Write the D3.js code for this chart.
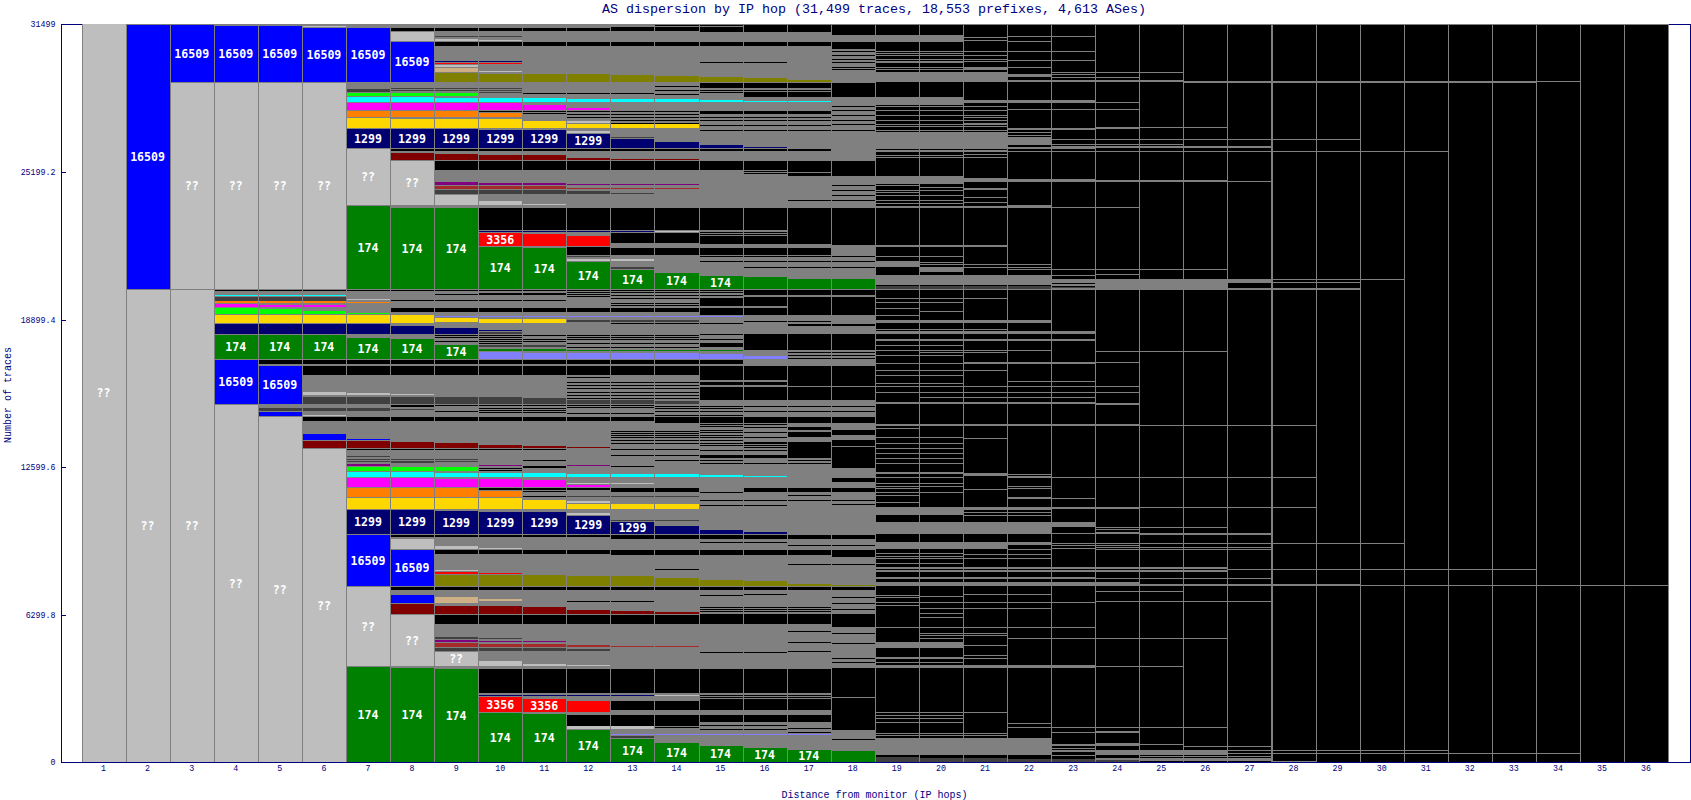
<!DOCTYPE html>
<html><head><meta charset="utf-8"><title>AS dispersion by IP hop</title>
<script src="https://cdn.jsdelivr.net/npm/d3@7"></script>
<style>html,body{margin:0;padding:0;background:#fff;overflow:hidden}svg{display:block}</style>
</head><body><svg id="c" width="1691" height="800"></svg>
<script>
const titleText = "AS dispersion by IP hop (31,499 traces, 18,553 prefixes, 4,613 ASes)";
const xTitle = "Distance from monitor (IP hops)";
const yTitle = "Number of traces";
const totalTraces = 31499;
const hops = d3.range(1, 37);
const yTickValues = [0, 6299.8, 12599.6, 18899.4, 25199.2, 31499];
// rows: [firstHop, lastHop, lowTrace, highTrace, label?]  or [firstHop,lastHop,trace] for a single hairline
const unknown = [[1,1,0,31499,"??"],[2,3,0,20159,"??"],[3,6,20188,28981,"??"],[4,4,0,15266,"??"],[5,5,0,14754,"??"],[6,6,0,13388,"??"],
 [7,7,23788,26177,"??"],[8,8,23788,25665,"??"],[9,9,23788,24215],[10,10,23788,23958],[11,11,23788,23830],
 [7,7,4112,7483,"??"],[8,8,4112,6288,"??"],[9,9,4112,4709,"??"],[10,10,4112,4325],[11,11,4112,4197],[12,12,4112,4170],
 [8,8,30787,31185],[9,9,30787,30873],[10,10,30787,30830],[9,9,29678,29763],[10,10,29464,29507],[6,6,31385,31424],[7,7,19733,19776],
 [6,6,15664,15806],[7,7,15678,15777],[8,8,15678,15720],[6,6,14782,14824],[8,8,9105,9532],[9,9,9105,9233],[10,10,9105,9148],[9,9,8166,8209],
 [12,12,27287,27373],[12,12,26860,26946],[12,13,21397,21483],[12,13,11880,11922],[12,12,11069,11154],[12,12,10557,10642],[12,13,1423,1551],
 [14,14,22635,22678],[14,14,2831,2874],[12,12,4112,4170]];
const as16509 = [[2,2,20188,31470,"16509"],[3,3,29023,31470,"16509"],[4,5,29023,31442,"16509"],[6,7,29023,31356,"16509"],[8,8,29023,30744,"16509"],
 [4,4,15294,17172,"16509"],[5,5,15294,16915,"16509"],[5,5,14782,14953],[6,6,13757,14013],[7,7,13757,13800],[7,7,7526,9703,"16509"],[8,8,7526,9063,"16509"],[8,8,6800,7142]];
const as1299 = [[7,9,26220,27031,"1299"],[10,11,26220,26988,"1299"],[12,12,26220,26818,"1299"],[13,13,26220,26604],[14,14,26220,26476],[15,15,26220,26348],[16,16,26220,26263],
 [7,8,9746,10770,"1299"],[9,9,9746,10727,"1299"],[10,11,9746,10685,"1299"],[12,12,9746,10514,"1299"],[13,13,9746,10258,"1299"],[14,14,9746,10087],[15,15,9746,9917],[16,16,9746,9831],
 [4,7,18267,18709],[8,8,18267,18623],[9,9,18267,18538],[10,10,18410,18452],[9,10,29892,29934],[10,13,22635,22678],[12,13,2831,2874],[10,11,2831,2874]];
const as174 = [[7,7,20188,23745,"174"],[8,9,20188,23660,"174"],[10,10,20188,21995,"174"],[11,11,20188,21952,"174"],[12,12,20188,21354,"174"],[13,13,20188,21013,"174"],[14,14,20188,20885,"174"],[15,15,20188,20757,"174"],[16,16,20188,20715],[17,18,20188,20629],
 [4,6,17215,18239,"174"],[7,7,17215,18111,"174"],[8,8,17215,18068,"174"],[9,9,17215,17812,"174"],[10,11,17560,17645],[12,15,17560,17603],
 [7,7,0,4069,"174"],[8,8,0,4026,"174"],[9,9,0,3984,"174"],[10,10,0,2106,"174"],[11,11,0,2063,"174"],[12,12,0,1380,"174"],[13,13,0,996,"174"],[14,14,0,825,"174"],[15,15,0,697,"174"],[16,16,0,612,"174"],[17,17,0,526,"174"],[18,18,0,484]];
const as3356 = [[10,10,22037,22592,"3356"],[11,11,22037,22550],[12,12,22037,22464],[10,10,2148,2788,"3356"],[11,11,2148,2703,"3356"],[12,12,2148,2617],
 [9,10,29806,29848],[9,9,8038,8123],[10,10,8038,8080]];
const maroonRows = [[8,8,25708,26007],[9,9,25708,25964],[10,11,25708,25921],[12,12,25708,25793],[13,14,25708,25750],
 [6,7,13416,13715],[8,8,13416,13672],[9,9,13416,13629],[10,10,13416,13544],[11,11,13416,13501],[12,12,13416,13458],
 [8,8,6331,6757],[9,10,6331,6672],[11,11,6331,6629],[12,12,6331,6501],[13,13,6331,6459],[14,14,6331,6416]];
const goldRows = [[7,7,27074,27501],[8,10,27074,27458],[11,11,27074,27373],[12,14,27074,27245],[4,8,18737,19093],[9,9,18780,18965],[10,11,18751,18922],
 [7,10,10813,11282],[11,11,10813,11197],[12,14,10813,11026]];
const orangeRows = [[7,9,27543,27799],[10,10,27543,27714],[4,6,19619,19691],[7,7,19619,19662],[7,9,11325,11709],[10,10,11325,11581]];
const magentaRows = [[7,10,27842,28141],[11,11,27842,28056],[12,12,27842,27927],[4,4,19420,19576],[5,5,19420,19533],[6,6,19449,19533],[7,8,11752,12136],[9,10,11752,12094],[11,11,11752,12051],[12,12,11752,11837]];
const cyanRows = [[7,8,28184,28397],[9,11,28184,28354],[12,14,28184,28311],[15,15,28184,28269],[16,17,28184,28226],[4,6,19904,19947],[7,8,12178,12392],[9,11,12178,12349],[12,14,12178,12306],[15,15,12178,12264],[16,16,12178,12221]];
const limeRows = [[7,9,28440,28568],[4,4,19136,19406],[5,5,19136,19334],[6,6,19136,19264],[7,7,19136,19193],[7,9,12434,12605]];
const oliveRows = [[9,9,29038,29407],[10,12,29038,29378],[13,13,29038,29336],[14,14,29038,29293],[15,15,29038,29250],[16,16,29038,29208],[17,17,29038,29122],
 [9,11,7526,7995],[12,13,7526,7953],[14,14,7526,7867],[15,15,7526,7782],[16,16,7526,7739],[17,17,7526,7611],[18,18,7526,7569]];
const tanRows = [[9,9,29464,29635],[9,9,6800,7056],[10,10,6885,6971]];
const purpleRows = [[9,9,24641,24769],[10,11,24641,24726],[12,14,24641,24684],[9,9,5136,5221],[10,11,5136,5179],[7,7,12647,12733],[10,10,12647,12690],[12,12,12647,12690]];
const brownRows = [[9,11,24470,24598],[12,14,24470,24513],[9,9,4922,5093],[10,11,4922,5051],[12,12,4922,5008],[13,14,4922,4965]];
const periwinkleRows = [[9,15,19008,19051],[10,10,17215,17517],[11,14,17215,17475],[15,15,17215,17432],[16,16,17215,17346],[13,17,1167,1209]];
const darkRows = [[4,6,19704,19875],[6,10,15294,15607],[11,11,15294,15550],[12,13,15294,15465],[14,14,15294,15422],[5,7,14995,15124],[8,8,15038,15095],
 [7,7,28611,28724],[8,9,28640,28696],[8,9,28781],[9,10,30986],[10,10,28767],[10,10,28681],[10,10,28596],
 [9,11,24256,24427],[12,12,24256,24385],[13,13,24256,24300],[9,11,4752,4880],[12,12,4752,4837],[9,9,5264,5349],[10,10,5264,5307],
 [13,13,1039,1124],[13,13,21056,21141],[13,13,26675],[13,14,10344],[12,14,11368],[7,7,13074],[7,9,12932],[7,9,12847],[8,8,12790,12847],
 [10,11,17713,17798],[10,10,18267,18366],[12,14,18780,18865],[12,12,21611],
 [19,19,0,228],[20,21,0,185],[22,23,0,142],[24,24,0,100],[19,22,20202,20331],[23,23,20240,20290]];
// black gaps inside the grey hatching of hops up to 18
const gapRows = [[8,12,31228,31342],[13,14,31228,31385],[15,15,31171,31385],[14,15,31424,31470],[16,17,31171,31470],[18,18,31043,31470],
 [9,17,30574,30744],[18,18,30446,30744],[18,18,30360],[18,18,30190],[18,18,30019],[18,18,29892],[18,18,29692],[18,18,29592],[15,16,29877],[15,17,28781,28981],[18,18,28397,28981],[11,13,28568],[14,14,28866],[14,15,28696],[14,14,28525],[15,15,28611],[16,17,28397,28611],[16,17,28696],
 [18,18,28013],[18,18,27842],[18,18,27629],[18,18,27415],[18,18,27245],[18,18,26988],
 [10,10,27757,27813],[11,11,27757,27785],[11,11,27657,27700],[12,14,27799],[12,14,27671],[12,14,27543],[13,14,27415],[13,14,27287],[13,14,27202],[15,17,27671,27799],[15,17,27543],[15,17,27415],[15,17,27202],[15,17,26988],
 [8,17,26092,26177],[9,15,25281,25665],[16,16,25281,25665],[16,16,25224],[16,16,25139],[17,17,25196,25665],[17,17,25025,25139],[18,18,25025,25665],[17,17,23999],[18,18,24641],[18,18,24427],[18,18,24214],[18,18,24001],
 [10,16,22720,23660],[17,17,22123,23660],[18,18,22080,23660],[15,16,22635],[15,16,22550],[13,13,22166,22578],[14,14,22166,22593],[15,16,22123,22464],[12,12,21653,21995],[13,17,21653,21952],[15,18,21611],[15,18,21397],[16,18,21155],
 [4,18,20116,20174],[9,9,20003],[10,11,19947,20017],[12,12,20088],[12,12,19988],[12,12,19889],[13,14,20088],[13,14,19960],[13,15,19818],[13,14,19619],[13,14,19519],[8,11,19754],[15,15,20060],[15,15,19947],[15,15,19476,19818],[16,16,19947,20159],[16,16,19476,19875],[17,18,19947,20159],[17,18,19093,19861],
 [8,14,19220,19391],[15,16,19093,19391],[16,17,18780,18850],[17,18,18620,18700],[13,15,18750],[9,10,18225],[9,10,18139],[9,11,17969],[10,11,18054],[10,10,17912],[11,11,18225],[12,14,18225],[12,14,18139],[12,14,18054],[12,14,17883],[12,14,17741],[15,15,18225,18268],[15,15,18054],[15,15,17741,17883],[16,18,17741,18268],[16,18,17600,17720],[17,18,17530],[17,18,17390],[17,18,17250],
 [5,15,17001,17172],[6,15,16531,16915],[15,18,16315,16915],[17,18,16070,16300],[15,16,16100,16250],[15,18,15465,16000],[12,12,16460],[12,14,16245],[12,14,16103],[12,14,15961],[12,14,15820],[12,14,15678],[12,14,15536],
 [8,8,15209],[8,8,15266],[9,9,15251],[9,9,15010],[10,11,15266],[10,11,15138],[10,11,15038],[10,11,14939],[12,13,15251],[12,13,15181],[12,13,14925],[14,15,15209],[14,15,15124],[14,15,15010],[14,15,14839],[14,15,14754],[16,18,15209],[16,18,15010],
 [6,13,14569,14739],[14,14,14498,14739],[15,18,14498,14739],[13,14,14142],[13,14,14056],[13,14,13971],[13,14,13886],[13,14,13757],[13,14,13629],[13,14,13373],[13,14,13117],
 [15,15,14440],[15,15,14355],[15,15,14184],[15,15,14099],[15,15,13971],[15,15,13886],[15,15,13757],[15,15,13629],[15,15,13544],[15,15,13331],[15,15,12975,13117],[15,15,12904],[15,15,12762],
 [16,16,14440],[16,16,14326],[16,16,14099],[16,16,13886],[16,16,13686],[16,16,13615],[16,16,13544],[16,16,13473],[16,16,13331],[16,16,12975,13117],[16,16,12762],
 [17,17,14184,14326],[17,17,13900,14113],[17,17,12975,13686],[17,17,12904],[17,17,12762],[18,18,13971,14184],[18,18,13487,13757],[18,18,12548,13458],
 [7,11,13331,13388],[10,10,12576],[10,10,12477],[11,11,12917],[11,11,12661],[11,11,12619],[13,13,12647],[14,14,12904],[10,10,11623,11709],[11,12,11623,11709],[11,11,11581],[11,11,11368],[13,14,11538,11709],[15,15,11538],[15,15,11197],[15,15,10983],[16,16,11538,11709],[16,16,11197],[16,16,10983],[17,17,11538,11695],[17,17,11410],[17,17,11197],[18,18,11979,12121],[18,18,11538,11709],[18,18,11197],[18,18,11040],
 [8,12,9618,9703],[13,18,9532,9703],[9,12,8892,9063],[13,17,8849,9063],[18,18,8750,9063],[15,16,9418],[17,18,9262],[18,18,8465],[17,18,8465],
 [8,18,7355,7483],[14,14,8266],[15,15,7142],[16,16,7170],[18,18,7071],[12,13,6900],[15,17,6629],[15,17,6544],[15,17,6459],[15,18,6331],[18,18,6786],[18,18,6544],
 [9,17,5904,6288],[18,18,5760,6288],[17,17,5606],[18,18,5520],[17,17,5150],[18,18,5080],[15,16,4695],[17,17,4752],[18,18,4439],[18,18,4296],
 [10,17,2959,3984],[18,18,2788,4026],[15,17,2874],[15,17,2788],[15,17,2703],[18,18,1664,2745],[13,14,2233,2617],[15,17,2233,2660],
 [12,13,1551,2017],[14,14,1551,2017],[14,14,1508],[15,16,1722,2017],[15,16,1594],[15,16,1423],[17,17,1722,2017],[17,17,1451],[17,17,1309],[18,18,1380,2017],[18,18,1010]];
// grey hairlines and bands on the black of the deep hops
const greyRows = [[19,36,31470,31499],[19,20,30744,31043],[21,21,30958],[21,21,30830],[22,22,30986],[22,22,30773],[23,23,30986],
 [19,21,30360],[22,23,30360],[19,20,30275],[19,21,30190],[19,20,30019],[21,21,30019],[19,21,29934],[19,20,29892],[19,21,29692],[19,20,29592],[21,21,29550,29650],[19,21,29038,29464],[22,22,29678],[22,22,29236,29378],[22,23,29038,29122],[22,22,29976],[23,23,29976],[23,23,29450],[23,23,29378],[23,23,29236],
 [19,20,28056,28397],[21,23,28127,28269],[19,21,28013],[19,21,27842],[22,23,27870],[19,21,27629],[19,21,27415],[19,21,27245],[19,21,27159],[19,21,26988],[21,21,27530],[21,21,27300],[22,23,27010,27088],[22,22,26903],[22,22,26790],
 [19,21,26177,26903],[22,22,26348,26689],[22,23,26177,26248],[23,23,26590],[23,23,26377],[23,23,26300],[19,21,26050,26135],[22,23,26078],[19,20,25907],[19,20,25822],[21,21,25950],[21,21,25822],
 [19,20,24684,25025],[21,21,24783,24954],[22,23,24783,24897],[19,19,24641],[19,20,24427],[19,19,24356],[19,20,24214],[19,20,24001],[19,20,23859],[20,20,24570],[21,21,24430,24499],[21,21,24115],[21,21,23930],[19,22,23660,23745],[22,22,23788],[23,23,23688],
 [18,21,21995,22080],[19,20,21625],[19,19,21155,21397],[20,20,21340],[20,20,21270],[20,20,20940,21155],[21,22,21268],[21,22,21155],[22,23,21042],[19,22,20373,20800],[23,23,20470,20615],[23,23,20800],[19,29,20174,20230],[23,23,20345,20430],
 [19,21,19800],[19,20,19660],[19,19,19400],[19,19,19090],[20,20,19260],[19,22,18737,18880],[19,21,18500],[22,22,18430],[19,23,18270,18400],[19,23,17970,18060],[19,20,17830],[19,22,17600],[20,21,17500],[19,20,17400],[21,24,17100],[19,23,17001,17060],[19,21,16740],[19,20,16530],[22,23,16280],[19,20,16180],[19,24,16000,16060],[19,24,15820],[20,23,15600],[19,23,15294,15380],
 [18,24,14355,14440],[19,19,14255],[19,20,13828,13900],[19,20,13615],[19,20,13402],[19,20,13188],[19,20,12975],[19,20,12790],[21,21,13828],[21,22,12300],[19,20,12406],[19,20,12335],[19,20,12164],[21,21,12221,12335],[22,22,12121,12221],[23,23,12164],[19,19,11908],[19,19,11794],[19,19,11695],[19,19,11552],[19,19,11410],[19,19,11126],[20,20,11908],[20,20,11794],[20,20,11552],[22,22,11809],[22,22,11723],[22,22,11339],[22,23,11268],[21,21,11650],
 [19,20,10557,10912],[21,22,10770,10912],[21,22,10700],[21,21,10557],[22,22,10557],[23,24,10798,10912],[17,22,9732,10272],[23,23,10030,10240],[23,24,9732,9802],[24,24,10030],[24,24,9960],[18,22,9418],[17,21,9105,9347],[22,22,9262,9376],[22,22,9105],[23,23,9347],[23,23,9262],[23,23,9148],
 [19,20,8920],[19,20,8806],[19,20,8707],[19,20,8493],[21,22,8900],[21,22,8700],[19,24,8266,8351],[19,24,8123,8209],[19,23,7810,7895],[19,24,7526,7682],
 [19,19,7142],[19,19,7071],[19,19,6857],[19,19,6715],[20,20,7100],[20,20,6857],[20,20,6573],[20,20,6360],[20,20,6218],[21,22,7200],[21,22,6857],[21,22,6573],[23,23,6857],[19,22,5719,5791],[23,23,5760],[22,24,5292],[20,21,5500],[20,21,5430],[20,20,5320],[21,21,4995],[19,20,4866,5150],[21,21,4580],[21,21,4440],[19,20,4510],[19,20,4440],[19,20,4300],[17,23,4040,4154],
 [19,21,2134],[19,20,2020],[19,20,1880],[19,20,1740],[22,22,1664],[22,24,1494],[23,24,1309],[19,21,1238],[19,21,1167],[19,22,811,1040],[23,23,683,790],[22,23,600],[19,22,313,811],[23,24,420,526],[23,23,300],
 [24,25,29450],[24,24,29236],[24,25,29038,29122],[26,33,29010,29066],[34,34,29066],[24,24,28169],[24,24,27870],[24,24,27050,27115],[25,26,27102],[24,29,26590],[24,25,26377],[24,27,26200,26300],[24,31,26078],[24,26,24783,24854],[27,27,24770,24830],[24,24,23688],[24,26,21042],[24,24,20790,20830],[27,27,20470,20615],[24,26,20260,20615],[28,30,20615],[28,29,20501],[24,26,17570],
 [24,24,15250,15330],[24,28,14383],[24,28,12164],[24,24,10800,10900],[25,28,10884],[24,25,10020,10060],[26,26,10030],[24,24,9770,9830],[25,27,9802],[25,27,9732],[24,30,9347],[24,27,9176],[24,24,9262],[24,27,9091],[24,26,8270,8351],[24,26,8130,8210],[27,33,8238],[24,27,7853],[24,24,7530,7710],[25,29,7530,7600],[30,36,7569],[24,25,7298],[24,27,6871],[24,26,5292],[24,25,4097],[24,26,1494],[24,24,1323],[24,24,700,810],[25,25,769],[26,27,683],[24,26,330,526],[27,31,526],[27,34,398],[25,27,270],[24,27,43,171],[28,28,43]];

const palette = new Map([["base","#808080"],["black","#000"],["dark","#404040"],["unknown","#bebebe"],["blue","#0000ff"],["navy","#000070"],["green","#008000"],["red","#ff0000"],["maroon","#800000"],["gold","#ffd700"],["orange","#ff8000"],["magenta","#ff00ff"],["cyan","#00ffff"],["lime","#00ff00"],["olive","#808000"],["tan","#cfaf86"],["purple","#800080"],["brown","#a52a2a"],["periwinkle","#8080ff"]]);
const layers = [["base",greyRows],["black",gapRows],["dark",darkRows],["unknown",unknown],["blue",as16509],["navy",as1299],["green",as174],["red",as3356],["maroon",maroonRows],["gold",goldRows],["orange",orangeRows],["magenta",magentaRows],["cyan",cyanRows],["lime",limeRows],["olive",oliveRows],["tan",tanRows],["purple",purpleRows],["brown",brownRows],["periwinkle",periwinkleRows]];

const navy = "#000080";
const svg = d3.select("#c");
const plot = {l:82, r:1668.6, t:24.33, b:762.33, frameL:61, frameR:1690.5};
const x = d3.scaleLinear().domain([0.5,36.5]).range([plot.l,plot.r]);
const y = d3.scaleLinear().domain([0,totalTraces]).range([plot.b,plot.t]);
const px = h => Math.floor(x(h-0.5));

const g = svg.append("g").attr("shape-rendering","crispEdges");
g.selectAll("rect.back").data(hops).join("rect").attr("class","back")
 .attr("x",h=>px(h)).attr("width",h=>px(h+1)-px(h)).attr("y",Math.round(y(totalTraces))).attr("height",Math.round(y(0))-Math.round(y(totalTraces)))
 .attr("fill",h=>h<=18?palette.get("base"):"#000");

function yspan(r){
  if(r.length===3){const t=Math.round(y(r[2]));return [t,1];}
  const t=Math.round(y(r[3])), b=Math.round(y(r[2]));
  return [t,Math.max(1,b-t)];
}
for(const [key,rows] of layers){
  g.append("g").selectAll("rect").data(rows).join("rect")
   .attr("x",r=>px(r[0])).attr("width",r=>px(r[1]+1)-px(r[0]))
   .attr("y",r=>yspan(r)[0]).attr("height",r=>yspan(r)[1]).attr("fill",palette.get(key));
}
// column dividers (the one before hop 28 is drawn twice as thick in the original)
g.selectAll("rect.div").data(d3.range(1,38)).join("rect").attr("class","div")
 .attr("x",h=>px(h)).attr("width",h=>h===28?2:1).attr("y",Math.round(y(totalTraces))).attr("height",Math.round(y(0))-Math.round(y(totalTraces)))
 .attr("fill","#808080");

// block labels
const labelled=[];
for(const [,rows] of layers) for(const r of rows) if(r[4]) for(const h of d3.range(r[0],r[1]+1)) labelled.push({h,mid:(r[2]+r[3])/2,t:r[4]});
svg.append("g").selectAll("text").data(labelled).join("text")
 .attr("x",d=>x(d.h)-0.5).attr("y",d=>y(d.mid)).attr("dy","0.35em").attr("text-anchor","middle")
 .attr("font-family","'DejaVu Sans Mono',monospace").attr("font-weight","bold").attr("font-size",11.6).attr("fill","#fff").text(d=>d.t);

// frame and axes
const f = svg.append("g").attr("shape-rendering","crispEdges").attr("stroke",navy).attr("fill","none");
f.append("path").attr("d",`M${plot.frameL}.5,${plot.t+0.17}V${plot.b+0.17}H${plot.frameR}V${plot.t+0.17}H${Math.round(plot.r)}`);
f.append("path").attr("d",`M${plot.frameL},24.5H${Math.round(plot.l)}`);
const yAxis = d3.axisLeft(y).tickValues(yTickValues).tickFormat(d=>String(d)).tickSize(0).tickPadding(5.5);
const ya = svg.append("g").attr("transform",`translate(${plot.frameL},0)`).call(yAxis);
ya.select(".domain").remove();
ya.selectAll("text").attr("font-family","'Liberation Mono',monospace").attr("font-size",8.3).attr("fill",navy);
f.selectAll("line").data(yTickValues).join("line").attr("x1",plot.frameL).attr("x2",plot.frameL+5).attr("y1",d=>Math.round(y(d))+0.5).attr("y2",d=>Math.round(y(d))+0.5);
const xAxis = d3.axisBottom(x).tickValues(hops).tickFormat(d3.format("d")).tickSize(0).tickPadding(3);
const xa = svg.append("g").attr("transform",`translate(-1,${plot.b})`).call(xAxis);
xa.select(".domain").remove();
xa.selectAll("text").attr("font-family","'Liberation Mono',monospace").attr("font-size",8.3).attr("fill",navy);

svg.append("text").attr("x",874).attr("y",8.5).attr("dy","0.35em").attr("text-anchor","middle").attr("font-family","'Liberation Mono',monospace").attr("font-size",13.33).attr("fill",navy).text(titleText);
svg.append("text").attr("x",874.5).attr("y",794).attr("dy","0.35em").attr("text-anchor","middle").attr("font-family","'Liberation Mono',monospace").attr("font-size",10).attr("fill",navy).text(xTitle);
svg.append("text").attr("transform","translate(7.5,395) rotate(-90)").attr("dy","0.35em").attr("text-anchor","middle").attr("font-family","'Liberation Mono',monospace").attr("font-size",10).attr("fill",navy).text(yTitle);
</script></body></html>
